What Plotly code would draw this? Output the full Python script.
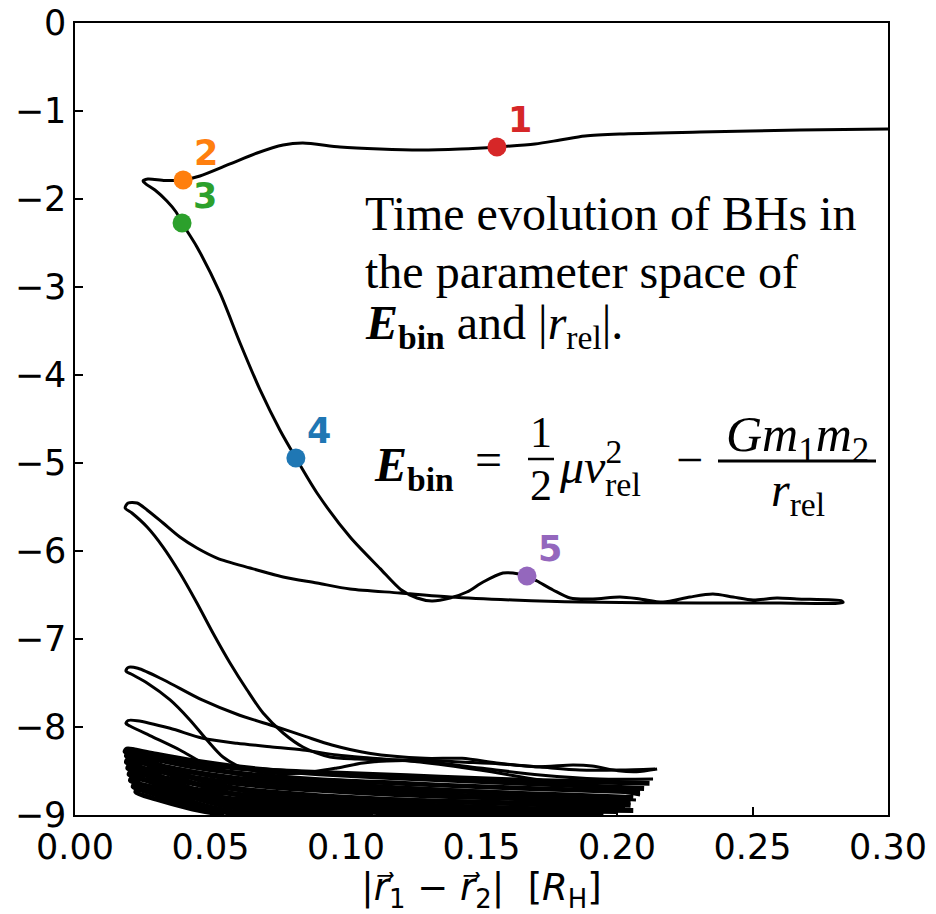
import plotly.graph_objects as go

# ---------------- data ----------------
# main trajectory (points 1..5 lie on it)
trackA_x = [0.3000, 0.2675, 0.2306, 0.2011, 0.1882, 0.1790, 0.1697, 0.1557, 0.1421, 0.1273,
            0.1125, 0.0978, 0.0841, 0.0768, 0.0672, 0.0572, 0.0461, 0.0399, 0.0332, 0.0269,
            0.0251, 0.0262, 0.0295, 0.0339, 0.0373, 0.0395, 0.0450, 0.0535, 0.0609, 0.0683,
            0.0756, 0.0815, 0.0893, 0.1015, 0.1126, 0.1203, 0.1262, 0.1317, 0.1384, 0.1446,
            0.1506, 0.1579, 0.1616, 0.1668, 0.1705, 0.1764, 0.1827, 0.1911, 0.2011, 0.2085,
            0.2170, 0.2269, 0.2354, 0.2428, 0.2502, 0.2590, 0.2664, 0.2830, 0.2834, 0.2601,
            0.2306, 0.1863, 0.1616, 0.1384, 0.1199, 0.1015, 0.0893, 0.0768, 0.0646, 0.0524,
            0.0450, 0.0387, 0.0325, 0.0266, 0.0229, 0.0196, 0.0185, 0.0210, 0.0266, 0.0325,
            0.0387, 0.0450, 0.0509, 0.0572, 0.0635, 0.0694, 0.0768, 0.0841, 0.0941, 0.1041,
            0.1151, 0.1273, 0.1421, 0.1568, 0.1716, 0.1863, 0.2011, 0.2140]
trackA_y = [-1.205, -1.216, -1.239, -1.261, -1.284, -1.330, -1.375, -1.409, -1.432, -1.443,
            -1.432, -1.409, -1.364, -1.386, -1.477, -1.602, -1.739, -1.784, -1.790, -1.773,
            -1.795, -1.830, -1.898, -2.023, -2.148, -2.273, -2.545, -3.068, -3.636, -4.170,
            -4.625, -4.943, -5.341, -5.841, -6.200, -6.440, -6.534, -6.568, -6.534, -6.466,
            -6.352, -6.250, -6.250, -6.284, -6.341, -6.443, -6.534, -6.545, -6.523, -6.545,
            -6.580, -6.523, -6.489, -6.523, -6.557, -6.534, -6.545, -6.568, -6.585, -6.591,
            -6.591, -6.580, -6.557, -6.523, -6.477, -6.432, -6.364, -6.295, -6.193, -6.080,
            -5.966, -5.841, -5.682, -5.534, -5.455, -5.455, -5.511, -5.568, -5.727, -5.955,
            -6.250, -6.591, -6.932, -7.273, -7.580, -7.841, -8.068, -8.227, -8.341, -8.364,
            -8.375, -8.375, -8.398, -8.420, -8.455, -8.489, -8.489, -8.477]

trackB_x = [0.2148, 0.2072, 0.2004, 0.1908, 0.1838, 0.1701, 0.1565, 0.1428, 0.1292, 0.1085,
            0.0948, 0.0852, 0.0742, 0.0605, 0.0469, 0.0328, 0.0232, 0.0196, 0.0188, 0.0207,
            0.0266, 0.0351, 0.0424, 0.0487, 0.0546, 0.0620, 0.0720, 0.0841, 0.0967, 0.1063,
            0.1151, 0.1273, 0.1494, 0.1716, 0.1937, 0.2133]
trackB_y = [-8.478, -8.508, -8.497, -8.443, -8.432, -8.451, -8.413, -8.356, -8.356, -8.299,
            -8.205, -8.110, -7.997, -7.864, -7.693, -7.466, -7.333, -7.324, -7.364, -7.398,
            -7.500, -7.693, -7.920, -8.148, -8.341, -8.466, -8.523, -8.523, -8.466, -8.409,
            -8.386, -8.386, -8.466, -8.545, -8.591, -8.591]

trackC_x = [0.2085, 0.1937, 0.1716, 0.1494, 0.1273, 0.1089, 0.0967, 0.0841, 0.0720, 0.0598,
            0.0472, 0.0351, 0.0229, 0.0196, 0.0188, 0.0203, 0.0288, 0.0387, 0.0472, 0.0535,
            0.0657, 0.0830, 0.1015, 0.1199, 0.1421, 0.1642, 0.1863, 0.2070]
trackC_y = [-8.773, -8.693, -8.602, -8.489, -8.398, -8.352, -8.318, -8.261, -8.224, -8.185,
            -8.128, -8.015, -7.928, -7.926, -7.960, -7.989, -8.114, -8.261, -8.409, -8.489,
            -8.568, -8.614, -8.648, -8.682, -8.716, -8.750, -8.795, -8.830]

band1_x = [0.2100, 0.180, 0.150, 0.120, 0.090, 0.065, 0.045, 0.030, 0.022, 0.0192, 0.0185, 0.021,
           0.030, 0.042, 0.055, 0.075, 0.100, 0.130, 0.160, 0.190, 0.205]
band1_y = [-8.70, -8.66, -8.62, -8.58, -8.53, -8.47, -8.39, -8.31, -8.26, -8.25, -8.28, -8.31,
           -8.42, -8.56, -8.67, -8.76, -8.81, -8.84, -8.86, -8.88, -8.89]
band2_x = [0.2085, 0.180, 0.150, 0.120, 0.090, 0.065, 0.045, 0.030, 0.022, 0.0195, 0.019, 0.022,
           0.032, 0.045, 0.060, 0.080, 0.110, 0.140, 0.170, 0.200]
band2_y = [-8.74, -8.71, -8.68, -8.64, -8.60, -8.54, -8.46, -8.37, -8.31, -8.30, -8.33, -8.36,
           -8.50, -8.65, -8.77, -8.85, -8.90, -8.93, -8.95, -8.96]
band3_x = [0.2060, 0.180, 0.150, 0.120, 0.090, 0.065, 0.045, 0.030, 0.022, 0.0195, 0.019, 0.023,
           0.033, 0.045, 0.060, 0.080, 0.110, 0.140, 0.180]
band3_y = [-8.80, -8.77, -8.74, -8.70, -8.66, -8.60, -8.52, -8.44, -8.38, -8.37, -8.40, -8.44,
           -8.58, -8.72, -8.84, -8.92, -8.97, -8.99, -9.00]
band4_x = [0.2050, 0.180, 0.150, 0.120, 0.090, 0.065, 0.045, 0.030, 0.022, 0.020, 0.0195, 0.024,
           0.035, 0.050, 0.065, 0.085, 0.110]
band4_y = [-8.86, -8.83, -8.80, -8.77, -8.72, -8.66, -8.58, -8.50, -8.45, -8.44, -8.47, -8.52,
           -8.66, -8.82, -8.92, -8.98, -9.01]
band5_x = [0.2030, 0.180, 0.150, 0.120, 0.090, 0.065, 0.045, 0.032, 0.023, 0.0205, 0.020, 0.025,
           0.037, 0.050, 0.065, 0.085]
band5_y = [-8.91, -8.89, -8.86, -8.83, -8.78, -8.72, -8.65, -8.57, -8.52, -8.51, -8.54, -8.59,
           -8.73, -8.86, -8.95, -9.01]
band6_x = [0.2000, 0.170, 0.140, 0.110, 0.085, 0.065, 0.045, 0.032, 0.024, 0.021, 0.0205, 0.026,
           0.038, 0.050, 0.065, 0.080]
band6_y = [-8.95, -8.93, -8.90, -8.87, -8.83, -8.78, -8.71, -8.64, -8.59, -8.58, -8.61, -8.67,
           -8.80, -8.91, -8.99, -9.02]
band7_x = [0.195, 0.165, 0.135, 0.105, 0.080, 0.060, 0.045, 0.033, 0.025, 0.022, 0.0215, 0.028,
           0.040, 0.052, 0.066]
band7_y = [-8.98, -8.96, -8.94, -8.91, -8.87, -8.82, -8.77, -8.71, -8.66, -8.65, -8.68, -8.75,
           -8.86, -8.95, -9.02]
band8_x = [0.185, 0.155, 0.125, 0.095, 0.070, 0.050, 0.036, 0.027, 0.023, 0.0225, 0.030, 0.042,
           0.055]
band8_y = [-9.00, -8.98, -8.96, -8.93, -8.89, -8.83, -8.77, -8.72, -8.71, -8.74, -8.82, -8.92,
           -9.00]
band9_x = [0.2120, 0.185, 0.160, 0.135, 0.110, 0.085, 0.065, 0.048, 0.034, 0.025, 0.0205, 0.020,
           0.024, 0.034, 0.048, 0.065, 0.090, 0.120, 0.150, 0.180, 0.2060]
band9_y = [-8.64, -8.62, -8.60, -8.57, -8.54, -8.51, -8.48, -8.43, -8.36, -8.30, -8.275, -8.30,
           -8.34, -8.47, -8.62, -8.74, -8.83, -8.88, -8.92, -8.94, -8.95]
band10_x = [0.2040, 0.175, 0.145, 0.115, 0.090, 0.070, 0.052, 0.038, 0.028, 0.022, 0.0205,
            0.023, 0.031, 0.043, 0.058, 0.075, 0.100]
band10_y = [-8.84, -8.81, -8.78, -8.74, -8.69, -8.63, -8.56, -8.48, -8.42, -8.41, -8.43,
            -8.47, -8.58, -8.73, -8.86, -8.95, -9.01]

# marked epochs
point_labels = ["1", "2", "3", "4", "5"]
point_x = [0.1557, 0.0399, 0.0395, 0.0815, 0.1668]
point_y = [-1.409, -1.784, -2.273, -4.943, -6.284]
point_colors = ["#d62728", "#ff7f0e", "#2ca02c", "#1f77b4", "#9467bd"]

x_ticks = [0.00, 0.05, 0.10, 0.15, 0.20, 0.25, 0.30]
x_ticklabels = ["0.00", "0.05", "0.10", "0.15", "0.20", "0.25", "0.30"]
y_ticks = [0, -1, -2, -3, -4, -5, -6, -7, -8, -9]
y_ticklabels = ["0", "\u22121", "\u22122", "\u22123", "\u22124", "\u22125",
                "\u22126", "\u22127", "\u22128", "\u22129"]

# ---------------- figure ----------------
W, H = 936, 914
ML, MR, MT, MB = 75, 48, 23, 99
fig = go.Figure()

main_tracks = [(trackA_x, trackA_y), (trackB_x, trackB_y), (trackC_x, trackC_y)]
band_tracks = [(band1_x, band1_y), (band2_x, band2_y), (band3_x, band3_y), (band4_x, band4_y),
               (band5_x, band5_y), (band6_x, band6_y), (band7_x, band7_y), (band8_x, band8_y),
               (band9_x, band9_y), (band10_x, band10_y)]
for tx, ty in band_tracks:
    fig.add_trace(go.Scatter(x=tx, y=ty, mode="lines",
                             line=dict(color="black", width=5, shape="spline", smoothing=0.8),
                             hoverinfo="skip"))
for tx, ty in main_tracks:
    fig.add_trace(go.Scatter(x=tx, y=ty, mode="lines",
                             line=dict(color="black", width=3, shape="spline", smoothing=0.8),
                             hoverinfo="skip"))

fig.add_trace(go.Scatter(x=point_x, y=point_y, mode="markers",
                         marker=dict(color=point_colors, size=19, line=dict(width=0)),
                         hoverinfo="skip"))

for lab, px, py, c in zip(point_labels, point_x, point_y, point_colors):
    fig.add_annotation(x=px, y=py, xref="x", yref="y", text="<b>%s</b>" % lab,
                       showarrow=False, xshift=23, yshift=27,
                       font=dict(family="DejaVu Sans", size=35, color=c))

# pixel helpers for the text block
def pxx(p):
    return (p - ML) / (W - ML - MR)

def pxy(p):
    return (H - MB - p) / (H - MT - MB)

serif = "Liberation Serif"
text_lines = ["Time evolution of BHs in",
              "the parameter space of",
              "<b><i>E</i></b><sub><b>bin</b></sub> and |<i>r</i><sub>rel</sub>|."]
text_y = [214, 271, 326]
for t, ty in zip(text_lines, text_y):
    fig.add_annotation(x=pxx(363), y=pxy(ty), xref="paper", yref="paper", text=t,
                       showarrow=False, xanchor="left", yanchor="middle",
                       font=dict(family=serif, size=48, color="black"))

formula_parts = [
    ("<b><i>E</i></b><sub><b>bin</b></sub>", 372, 468, "left", 48),
    ("=", 488, 460, "center", 48),
    ("1", 541, 432, "center", 44),
    ("2", 541, 486, "center", 44),
    ("<i>\u03bcv</i><sup>2</sup>", 557, 463, "left", 48),
    ("rel", 603, 484, "left", 34),
    ("\u2212", 689, 459, "center", 48),
    ("<i>Gm</i><sub>1</sub><i>m</i><sub>2</sub>", 797, 438, "center", 50),
    ("<i>r</i><sub>rel</sub>", 798, 493, "center", 48),
]
for t, fx, fy, anc, fs in formula_parts:
    fig.add_annotation(x=pxx(fx), y=pxy(fy), xref="paper", yref="paper", text=t,
                       showarrow=False, xanchor=anc, yanchor="middle",
                       font=dict(family=serif, size=fs, color="black"))

# fraction bars
fig.add_shape(type="line", xref="paper", yref="paper", x0=pxx(528), x1=pxx(554),
              y0=pxy(459), y1=pxy(459), line=dict(color="black", width=2.5))
fig.add_shape(type="line", xref="paper", yref="paper", x0=pxx(718), x1=pxx(876),
              y0=pxy(461), y1=pxy(461), line=dict(color="black", width=3))

axis_common = dict(showgrid=False, zeroline=False, showline=True, mirror=True,
                   linecolor="black", linewidth=1.5, ticks="inside", ticklen=8,
                   tickwidth=1.5, tickcolor="black", automargin=False,
                   tickfont=dict(family="DejaVu Sans", size=35, color="black"))

fig.update_xaxes(range=[0, 0.30], tickvals=x_ticks, ticktext=x_ticklabels,
                 title=dict(text="|<i>r\u20d7</i><sub>1</sub> \u2212 <i>r\u20d7</i><sub>2</sub>|  [<i>R</i><sub>H</sub>]",
                            font=dict(family="DejaVu Sans", size=37, color="black"),
                            standoff=6),
                 **axis_common)
fig.update_yaxes(range=[-9, 0], tickvals=y_ticks, ticktext=y_ticklabels, **axis_common)

fig.update_layout(width=W, height=H, autosize=False,
                  margin=dict(l=ML, r=MR, t=MT, b=MB),
                  plot_bgcolor="white", paper_bgcolor="white", showlegend=False)

fig.write_html("out.html")
